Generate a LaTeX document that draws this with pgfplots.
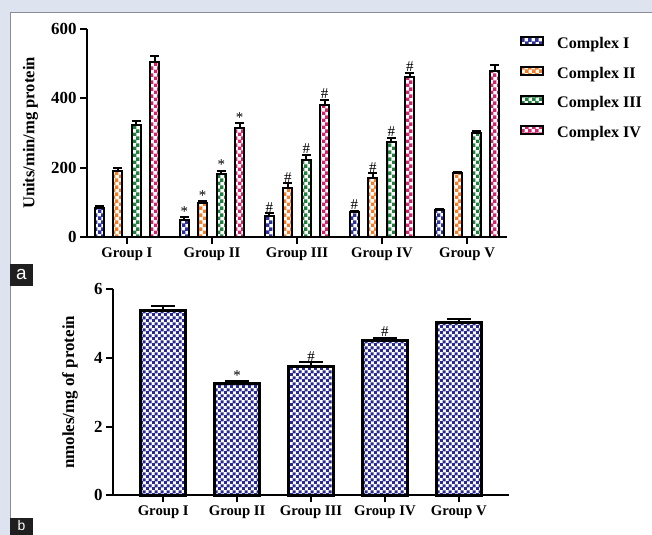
\documentclass[border=0pt]{standalone}
\usepackage{pgfplots}
\usepackage{pgfplotstable}
\pgfplotsset{compat=1.18}
\usepackage{fontspec}
\setmainfont{Liberation Serif}
\newfontfamily\arialfont{Liberation Sans}
\usetikzlibrary{patterns}
\pgfdeclarepatternformonly{checkA}{\pgfqpoint{0pt}{0pt}}{\pgfqpoint{7bp}{7bp}}{\pgfqpoint{7bp}{7bp}}{%
  \pgfpathrectangle{\pgfqpoint{0pt}{0pt}}{\pgfqpoint{3.9bp}{3.9bp}}%
  \pgfpathrectangle{\pgfqpoint{3.5bp}{3.5bp}}{\pgfqpoint{3.9bp}{3.9bp}}%
  \pgfusepath{fill}}
\pgfdeclarepatternformonly{checkB}{\pgfqpoint{0pt}{0pt}}{\pgfqpoint{5.6bp}{5.6bp}}{\pgfqpoint{5.6bp}{5.6bp}}{%
  \pgfpathrectangle{\pgfqpoint{0pt}{0pt}}{\pgfqpoint{3.2bp}{3.2bp}}%
  \pgfpathrectangle{\pgfqpoint{2.8bp}{2.8bp}}{\pgfqpoint{3.2bp}{3.2bp}}%
  \pgfusepath{fill}}
\definecolor{cblue}{RGB}{45,50,155}
\definecolor{corange}{RGB}{245,125,35}
\definecolor{cgreen}{RGB}{30,130,60}
\definecolor{cpink}{RGB}{210,35,110}
\definecolor{cnavy}{RGB}{40,40,145}
\definecolor{bglav}{RGB}{222,227,240}
\definecolor{bordergray}{RGB}{140,140,150}

\pgfplotstableread{
x  b   eb  o   eo  g   eg  p   ep
0  84  6   190 9   323 12  504 19
1  49  8   97  6   182 9   313 15
2  61  7   140 15  221 15  381 14
3  71  5   171 13  273 13  461 13
4  78  4   185 3   299 7   480 16
}\toptable

\pgfplotstableread{
x   y     lab
0.674  57  *
0.891  103 *
1.109  191 *
1.326  328 *
1.674  68  \#
1.891  155 \#
2.109  236 \#
2.326  395 \#
2.674  76  \#
2.891  184 \#
3.109  286 \#
3.326  474 \#
}\topmarks

\pgfplotstableread{
x  y     e
0  5.39  0.11
1  3.25  0.07
2  3.76  0.11
3  4.51  0.08
4  5.03  0.11
}\bottable

\pgfplotstableread{
x  y     lab
1  3.32  *
2  3.87  \#
3  4.59  \#
}\botmarks

\newcommand{\lblfont}{\bfseries\fontsize{14.8}{14.8}\selectfont}

\begin{document}
\begin{tikzpicture}
\useasboundingbox (0,0) rectangle (652bp,-535bp);
\fill[bglav] (0,0) rectangle (652bp,-535bp);
\fill[white] (10bp,-12bp) rectangle (652bp,-535bp);
\draw[bordergray, line width=1bp] (10bp,-535bp) -- (10bp,-12bp) -- (652bp,-12bp);
\fill[black!88] (10bp,-264bp) rectangle (33bp,-286bp);
\node[white, font=\arialfont\fontsize{19}{19}\selectfont, inner sep=0pt] at (21.5bp,-274.5bp) {a};
\fill[black!88] (10bp,-518bp) rectangle (33bp,-535bp);
\node[white, font=\arialfont\fontsize{14}{14}\selectfont, inner sep=0pt] at (21.5bp,-526bp) {b};

\pgfplotsset{
  mybase/.style={
    scale only axis,
    axis lines*=left,
    axis line style={line width=2bp, black},
    tick align=outside,
    major tick length=7bp,
    tick style={line width=2bp, black},
    xtick={0,1,2,3,4},
    xticklabels={Group I,Group II,Group III,Group IV,Group V},
    xticklabel style={font=\lblfont},
    yticklabel style={font=\bfseries\fontsize{17}{17}\selectfont},
    /pgf/number format/assume math mode=true,
    ymin=0,
    clip=false,
  },
  topbar/.style={ybar, bar width=0.11, bar shift=0, draw=black, line width=2bp,
    error bars/y dir=plus, error bars/y explicit,
    error bars/error bar style={line width=2bp, black},
    error bars/error mark options={rotate=90, mark size=4.5bp, line width=2bp, black}},
}

\begin{axis}[mybase,
  at={(87bp,-237bp)}, anchor=south west,
  width=420bp, height=208bp,
  xmin=-0.47, xmax=4.47, ymax=600,
  ytick={0,200,400,600},
  ylabel={Units/min/mg protein},
  ylabel style={font=\bfseries\fontsize{16.6}{16.6}\selectfont, at={(axis description cs:-0.108,0.5)}, anchor=south},
  legend style={at={(axis description cs:1.031,0.966)}, anchor=north west, draw=none, fill=none,
    font=\bfseries\fontsize{16.2}{16.2}\selectfont, inner sep=0pt, row sep=14bp,
    nodes={inner sep=0pt, text height=11bp, text depth=3bp}},
  legend cell align=left,
  /tikz/every odd column/.append style={column sep=13bp},
  legend image code/.code={\draw[#1, line width=2bp] (0bp,-0.5bp) rectangle (22bp,7.5bp);},
]
\addplot[topbar, pattern=checkA, pattern color=cblue] table[x expr=\thisrow{x}-0.326, y=b, y error=eb] {\toptable};
\addlegendentry{Complex I}
\addplot[topbar, pattern=checkA, pattern color=corange] table[x expr=\thisrow{x}-0.109, y=o, y error=eo] {\toptable};
\addlegendentry{Complex II}
\addplot[topbar, pattern=checkA, pattern color=cgreen] table[x expr=\thisrow{x}+0.109, y=g, y error=eg] {\toptable};
\addlegendentry{Complex III}
\addplot[topbar, pattern=checkA, pattern color=cpink] table[x expr=\thisrow{x}+0.326, y=p, y error=ep] {\toptable};
\addlegendentry{Complex IV}
\addplot[forget plot, draw=none, mark=none, nodes near coords, point meta=explicit symbolic,
  nodes near coords style={anchor=south, font=\fontsize{15}{15}\selectfont, inner sep=1bp}]
  table[x=x, y=y, meta=lab] {\topmarks};
\end{axis}

\begin{axis}[mybase,
  at={(113bp,-495.3bp)}, anchor=south west,
  width=396bp, height=206bp,
  xmin=-0.68, xmax=4.68, ymax=6,
  ytick={0,2,4,6},
  ylabel={nmoles/mg of protein},
  ylabel style={font=\bfseries\fontsize{17}{17}\selectfont, at={(axis description cs:-0.080,0.5)}, anchor=south},
]
\addplot[ybar, bar width=0.61, bar shift=0, draw=black, line width=3bp, pattern=checkB, pattern color=cnavy,
  error bars/y dir=plus, error bars/y explicit,
  error bars/error bar style={line width=2bp, black},
  error bars/error mark options={rotate=90, mark size=12bp, line width=2bp, black}]
  table[x=x, y=y, y error=e] {\bottable};
\addplot[forget plot, draw=none, mark=none, nodes near coords, point meta=explicit symbolic,
  nodes near coords style={anchor=south, font=\fontsize{15}{15}\selectfont, inner sep=1bp}]
  table[x=x, y=y, meta=lab] {\botmarks};
\end{axis}
\end{tikzpicture}
\end{document}
